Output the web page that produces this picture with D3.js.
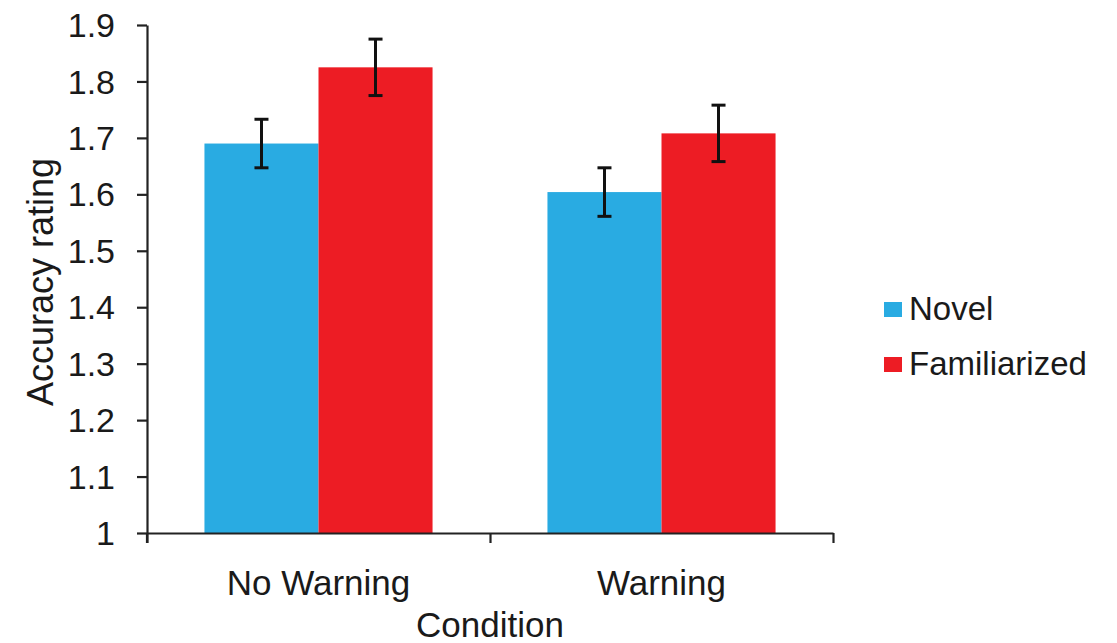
<!DOCTYPE html>
<html>
<head>
<meta charset="utf-8">
<script src="https://cdn.jsdelivr.net/npm/d3@7"></script>
<style>
  html, body { margin: 0; padding: 0; background: #fff; }
  svg { display: block; }
  text { font-family: "Liberation Sans", Arial, sans-serif; fill: #1a1a1a; }
</style>
</head>
<body>
<svg id="chart" width="1117" height="643"></svg>
<script>
// ---- data ----
const categories = ["No Warning", "Warning"];
const seriesNames = ["Novel", "Familiarized"];
const novelValues = [1.690, 1.604];
const familiarizedValues = [1.825, 1.708];
const novelErrors = [0.043, 0.043];
const familiarizedErrors = [0.050, 0.050];
const yTicks = [1, 1.1, 1.2, 1.3, 1.4, 1.5, 1.6, 1.7, 1.8, 1.9];
const yTickLabels = ["1", "1.1", "1.2", "1.3", "1.4", "1.5", "1.6", "1.7", "1.8", "1.9"];
const xTitle = "Condition";
const yTitle = "Accuracy rating";

const colors = { "Novel": "#29abe2", "Familiarized": "#ed1c24" };

const rows = categories.map((c, i) => ({
  cat: c,
  vals: [
    { s: "Novel", v: novelValues[i], e: novelErrors[i] },
    { s: "Familiarized", v: familiarizedValues[i], e: familiarizedErrors[i] }
  ]
}));

const svg = d3.select("#chart");
const mLeft = 147, mRight = 833, mTop = 25, mBottom = 533;

const x0 = d3.scaleBand().domain(categories).range([mLeft, mRight])
  .paddingInner(0.335).paddingOuter(0.1675);
const x1 = d3.scaleBand().domain(seriesNames).range([0, x0.bandwidth()]).padding(0);
const y = d3.scaleLinear().domain([1, 1.9]).range([mBottom, mTop]);

// bars
const groups = svg.append("g").selectAll("g").data(rows).join("g")
  .attr("transform", d => `translate(${x0(d.cat)},0)`);
groups.selectAll("rect").data(d => d.vals).join("rect")
  .attr("x", d => x1(d.s))
  .attr("y", d => y(d.v))
  .attr("width", x1.bandwidth())
  .attr("height", d => y(1) - y(d.v))
  .attr("fill", d => colors[d.s]);

// error bars
const capW = 14;
const eb = groups.selectAll("g.eb").data(d => d.vals).join("g").attr("class", "eb")
  .attr("stroke", "#111").attr("stroke-width", 3);
eb.append("line")
  .attr("x1", d => x1(d.s) + x1.bandwidth() / 2).attr("x2", d => x1(d.s) + x1.bandwidth() / 2)
  .attr("y1", d => y(d.v + d.e)).attr("y2", d => y(d.v - d.e));
eb.append("line")
  .attr("x1", d => x1(d.s) + x1.bandwidth() / 2 - capW / 2).attr("x2", d => x1(d.s) + x1.bandwidth() / 2 + capW / 2)
  .attr("y1", d => y(d.v + d.e)).attr("y2", d => y(d.v + d.e));
eb.append("line")
  .attr("x1", d => x1(d.s) + x1.bandwidth() / 2 - capW / 2).attr("x2", d => x1(d.s) + x1.bandwidth() / 2 + capW / 2)
  .attr("y1", d => y(d.v - d.e)).attr("y2", d => y(d.v - d.e));

// y axis
const yAxis = d3.axisLeft(y).tickValues(yTicks)
  .tickFormat((d, i) => yTickLabels[i]).tickSize(10).tickSizeOuter(0).tickPadding(22);
const gy = svg.append("g").attr("transform", `translate(${mLeft},0)`).call(yAxis);
gy.select(".domain").attr("stroke", "#222").attr("stroke-width", 2.2);
gy.selectAll(".tick line").attr("stroke", "#222").attr("stroke-width", 2.2);
gy.selectAll(".tick text").style("font-size", "34px").attr("fill", "#1a1a1a").attr("dy", "0.34em");
// extend y axis line below the x axis
svg.append("line").attr("x1", mLeft).attr("x2", mLeft).attr("y1", mBottom).attr("y2", mBottom + 10)
  .attr("stroke", "#222").attr("stroke-width", 2.2);

// x axis: boundary ticks via linear scale
const xb = d3.scaleLinear().domain([0, categories.length]).range([mLeft, mRight]);
const xAxisB = d3.axisBottom(xb).ticks(categories.length).tickFormat("").tickSize(10).tickSizeOuter(0);
const gx = svg.append("g").attr("transform", `translate(0,${mBottom})`).call(xAxisB);
gx.select(".domain").attr("stroke", "#222").attr("stroke-width", 2.2);
gx.selectAll(".tick line").attr("stroke", "#222").attr("stroke-width", 2.2);

// category labels
const xAxisC = d3.axisBottom(x0).tickSize(0).tickPadding(62);
const gc = svg.append("g").attr("transform", `translate(0,${mBottom})`).call(xAxisC);
gc.select(".domain").remove();
gc.selectAll(".tick text").style("font-size", "35px").attr("fill", "#1a1a1a").attr("dy", "0");

// axis titles
svg.append("text").attr("x", (mLeft + mRight) / 2).attr("y", 637)
  .attr("text-anchor", "middle").style("font-size", "35px").text(xTitle);
svg.append("text").attr("transform", "translate(53,282) rotate(-90)")
  .attr("text-anchor", "middle").style("font-size", "36px").text(yTitle);

// legend
const legend = svg.append("g").selectAll("g").data(seriesNames).join("g")
  .attr("transform", (d, i) => `translate(884,${302 + i * 55})`);
legend.append("rect").attr("width", 18).attr("height", 15).attr("fill", d => colors[d]);
legend.append("text").attr("x", 25).attr("y", 18).style("font-size", "33px").text(d => d);
</script>
</body>
</html>
